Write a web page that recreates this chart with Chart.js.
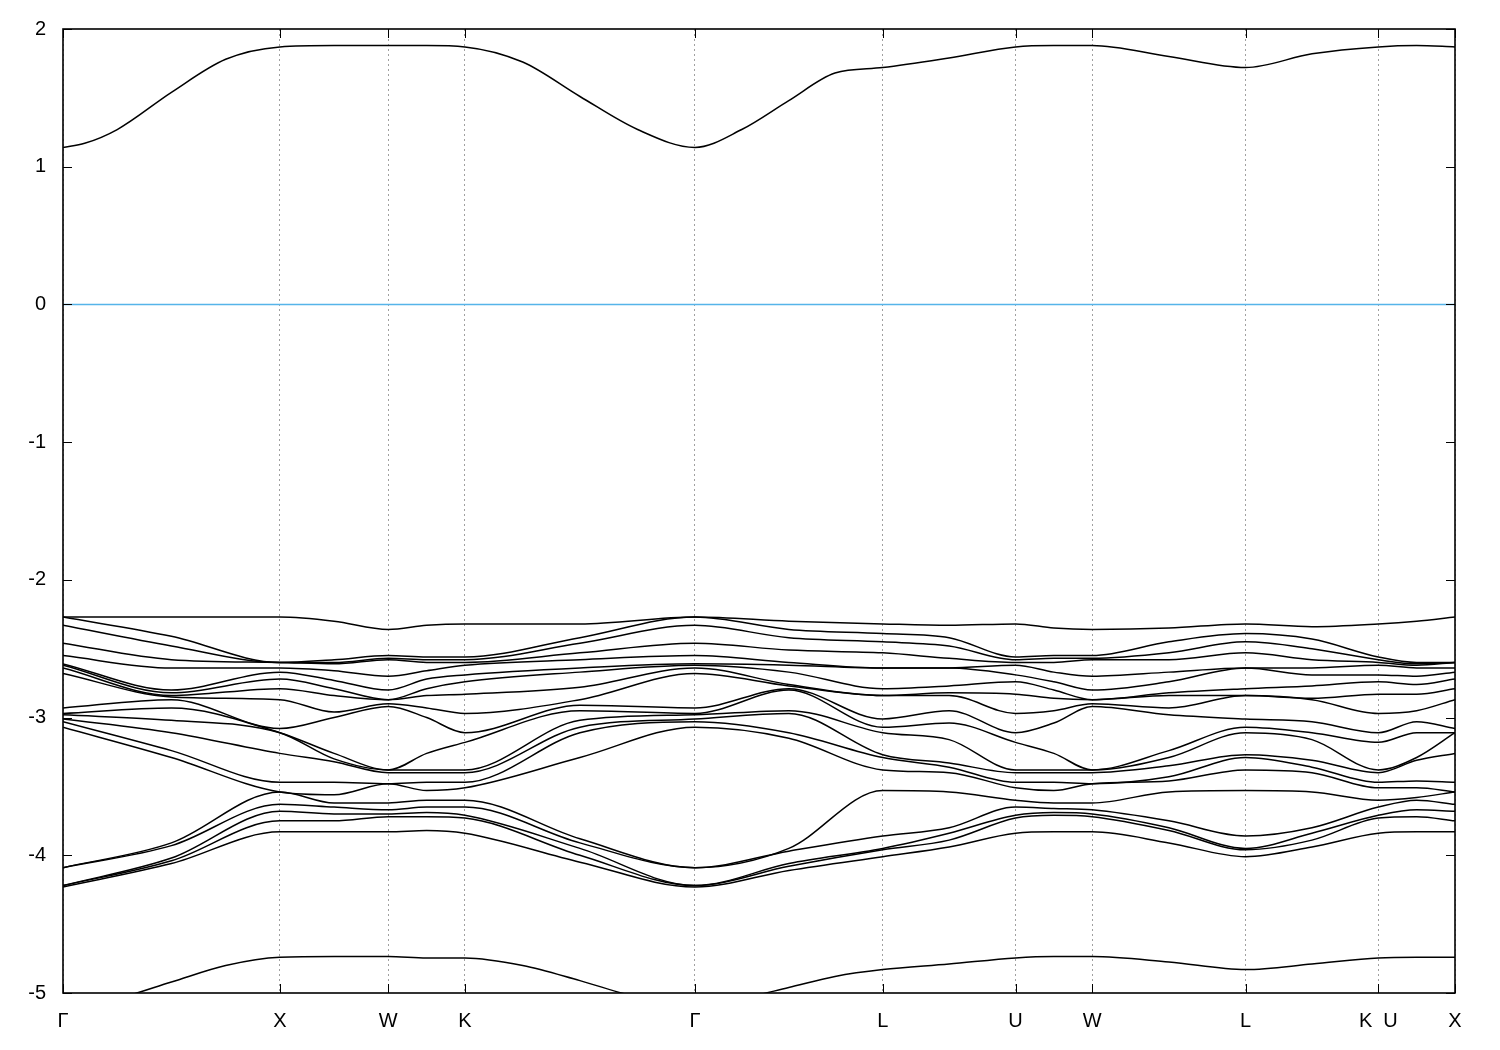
<!DOCTYPE html>
<html>
<head>
<meta charset="utf-8">
<script src="https://cdn.jsdelivr.net/npm/chart.js@4.4.1/dist/chart.umd.min.js"></script>
<style>
  html, body { margin: 0; padding: 0; background: #fff; }
</style>
</head>
<body>
<canvas id="bands" width="1500" height="1050"></canvas>
<script>
// high symmetry points along the path (k in 2pi/a units)
const hsK = [0, 1, 1.5, 1.8536, 2.9142, 3.7802, 4.3926, 4.7462, 5.4533, 6.0657, 6.4193];
const hsLabels = ['Γ', 'X', 'W', 'K', 'Γ', 'L', 'U', 'W', 'L', 'K  U', 'X'];
const yTicks = [2, 1, 0, -1, -2, -3, -4, -5];

// valence manifold, energies (eV) sorted at each sample point
const eGamma = [-2.27, -2.27, -2.33, -2.46, -2.55, -2.61, -2.62, -2.64, -2.68, -2.93, -2.97, -2.98, -3.01, -3.03, -3.07, -4.09, -4.09, -4.22, -4.22, -4.23];
const eGX = [-2.27, -2.41, -2.48, -2.58, -2.64, -2.80, -2.82, -2.84, -2.85, -2.87, -2.93, -3.02, -3.11, -3.24, -3.29, -3.91, -3.93, -4.02, -4.04, -4.06];
const eX = [-2.27, -2.60, -2.60, -2.60, -2.64, -2.67, -2.72, -2.79, -2.87, -3.08, -3.11, -3.11, -3.26, -3.47, -3.54, -3.54, -3.63, -3.68, -3.75, -3.83];
const eXW = [-2.30, -2.58, -2.60, -2.61, -2.66, -2.73, -2.79, -2.84, -2.96, -3.00, -3.26, -3.30, -3.32, -3.47, -3.56, -3.62, -3.65, -3.70, -3.75, -3.83];
const eW = [-2.36, -2.55, -2.57, -2.58, -2.70, -2.80, -2.87, -2.87, -2.90, -2.92, -3.38, -3.38, -3.40, -3.48, -3.48, -3.62, -3.67, -3.70, -3.72, -3.83];
const eWK = [-2.33, -2.56, -2.58, -2.60, -2.66, -2.72, -2.79, -2.84, -2.93, -3.00, -3.26, -3.38, -3.40, -3.47, -3.53, -3.60, -3.65, -3.69, -3.72, -3.82];
const eK = [-2.32, -2.56, -2.58, -2.60, -2.62, -2.69, -2.74, -2.83, -2.97, -3.11, -3.18, -3.38, -3.40, -3.47, -3.51, -3.60, -3.65, -3.71, -3.73, -3.84];
const eKG = [-2.32, -2.42, -2.46, -2.53, -2.58, -2.64, -2.67, -2.78, -2.87, -2.91, -2.95, -3.02, -3.07, -3.11, -3.29, -3.88, -3.91, -3.95, -4.00, -4.05];
const eGL = [-2.30, -2.36, -2.42, -2.51, -2.60, -2.62, -2.67, -2.76, -2.77, -2.79, -2.80, -2.95, -2.97, -3.11, -3.15, -3.95, -3.97, -4.06, -4.08, -4.11];
const eL = [-2.32, -2.39, -2.45, -2.53, -2.64, -2.64, -2.79, -2.84, -2.84, -3.01, -3.07, -3.11, -3.27, -3.29, -3.38, -3.53, -3.86, -3.95, -3.96, -4.01];
const eLU = [-2.33, -2.42, -2.48, -2.57, -2.64, -2.64, -2.77, -2.82, -2.84, -2.95, -3.04, -3.16, -3.33, -3.36, -3.40, -3.54, -3.80, -3.84, -3.89, -3.94];
const eUW = [-2.35, -2.55, -2.57, -2.60, -2.67, -2.74, -2.80, -2.86, -2.95, -3.04, -3.26, -3.38, -3.40, -3.47, -3.53, -3.62, -3.66, -3.69, -3.71, -3.83];
const eWL = [-2.35, -2.45, -2.53, -2.58, -2.67, -2.74, -2.82, -2.84, -2.93, -2.98, -3.24, -3.29, -3.35, -3.43, -3.46, -3.54, -3.75, -3.80, -3.82, -3.91];
const eLK = [-2.34, -2.43, -2.50, -2.58, -2.64, -2.69, -2.77, -2.86, -2.87, -3.03, -3.11, -3.16, -3.31, -3.36, -3.40, -3.54, -3.80, -3.84, -3.89, -3.94];
const eUX = [-2.30, -2.60, -2.61, -2.62, -2.64, -2.70, -2.76, -2.83, -2.95, -3.03, -3.11, -3.29, -3.31, -3.46, -3.51, -3.58, -3.60, -3.67, -3.72, -3.83];

// sample points: high symmetry points plus segment midpoints (U has the same energies as K)
const kGrid = [0, 0.5, 1, 1.25, 1.5, 1.677, 1.8536, 2.3839, 2.9142, 3.3472, 3.7802, 4.0864, 4.3926, 4.5694, 4.7462, 5.0998, 5.4533, 5.7595, 6.0657, 6.2425, 6.4193];
const pathCols = [eGamma, eGX, eX, eXW, eW, eWK, eK, eKG, eGamma, eGL, eL, eLU, eK, eUW, eW, eWL, eL, eLK, eK, eUX, eX];

// conduction band and the low lying band, on a finer grid
const kFine = [0, 0.1, 0.25, 0.5, 0.75, 1, 1.25, 1.5, 1.677, 1.8536, 2.12, 2.384, 2.65, 2.9142, 3.13, 3.347, 3.56, 3.7802, 4.086, 4.3926, 4.569, 4.7462, 5.10, 5.4533, 5.76, 6.0657, 6.2425, 6.4193];
const eCond = [1.14, 1.17, 1.27, 1.54, 1.78, 1.87, 1.88, 1.88, 1.88, 1.87, 1.76, 1.51, 1.27, 1.14, 1.27, 1.48, 1.68, 1.72, 1.79, 1.87, 1.88, 1.88, 1.80, 1.72, 1.82, 1.87, 1.88, 1.87];
const eLow = [-5.09, -5.08, -5.04, -4.92, -4.80, -4.74, -4.735, -4.735, -4.745, -4.745, -4.80, -4.91, -5.03, -5.09, -5.04, -4.96, -4.88, -4.83, -4.79, -4.745, -4.735, -4.735, -4.775, -4.83, -4.79, -4.745, -4.74, -4.74];

const kEnd = hsK[hsK.length - 1];

function bandLine(points, color) {
    return {
        data: points,
        borderColor: color,
        borderWidth: 1.5,
        pointRadius: 0,
        fill: false,
        cubicInterpolationMode: 'monotone'
    };
}

const datasets = [];
for (let b = 0; b < eGamma.length; b++) {
    datasets.push(bandLine(kGrid.map((k, i) => ({ x: k, y: pathCols[i][b] })), '#000'));
}
datasets.push(bandLine(kFine.map((k, i) => ({ x: k, y: eCond[i] })), '#000'));
datasets.push(bandLine(kFine.map((k, i) => ({ x: k, y: eLow[i] })), '#000'));
// Fermi level
datasets.push(bandLine([{ x: 0, y: 0 }, { x: kEnd, y: 0 }], '#56b4e9'));

// frame with inward ticks on all four sides, like gnuplot
const frameTicks = {
    id: 'frameTicks',
    afterDraw(chart) {
        const { ctx, chartArea: a, scales } = chart;
        ctx.save();
        ctx.strokeStyle = '#000';
        ctx.lineWidth = 1;
        ctx.beginPath();
        yTicks.forEach(v => {
            const y = Math.round(scales.y.getPixelForValue(v)) + 0.5;
            ctx.moveTo(a.left, y); ctx.lineTo(a.left + 9, y);
            ctx.moveTo(a.right, y); ctx.lineTo(a.right - 9, y);
        });
        hsK.forEach(k => {
            const x = Math.round(scales.x.getPixelForValue(k)) + 0.5;
            ctx.moveTo(x, a.bottom); ctx.lineTo(x, a.bottom - 9);
            ctx.moveTo(x, a.top); ctx.lineTo(x, a.top + 9);
        });
        ctx.stroke();
        ctx.lineWidth = 1.6;
        ctx.strokeRect(a.left, a.top, a.right - a.left, a.bottom - a.top);
        ctx.restore();
    }
};

Chart.defaults.font.family = "'Liberation Sans', Arial, sans-serif";
Chart.defaults.font.size = 20;
Chart.defaults.color = '#000';

new Chart(document.getElementById('bands'), {
    type: 'line',
    data: { datasets: datasets },
    plugins: [frameTicks],
    options: {
        responsive: false,
        animation: false,
        devicePixelRatio: 1,
        layout: { padding: { left: 0, right: 45, top: 28, bottom: 0 } },
        plugins: { legend: { display: false }, tooltip: { enabled: false } },
        scales: {
            x: {
                type: 'linear',
                min: 0,
                max: kEnd,
                afterBuildTicks: s => { s.ticks = hsK.map(v => ({ value: v })); },
                afterFit: s => { s.height = 57; },
                ticks: {
                    autoSkip: false,
                    maxRotation: 0,
                    padding: 16,
                    callback: (v, i) => hsLabels[i]
                },
                grid: { color: '#a0a0a0', lineWidth: 1, drawTicks: false },
                border: { display: false, dash: [2, 3] }
            },
            y: {
                min: -5,
                max: 2,
                afterBuildTicks: s => { s.ticks = yTicks.map(v => ({ value: v })); },
                afterFit: s => { s.width = 63; },
                ticks: { padding: 17, callback: v => String(v) },
                grid: { display: false, drawTicks: false },
                border: { display: false }
            }
        }
    }
});
</script>
</body>
</html>
